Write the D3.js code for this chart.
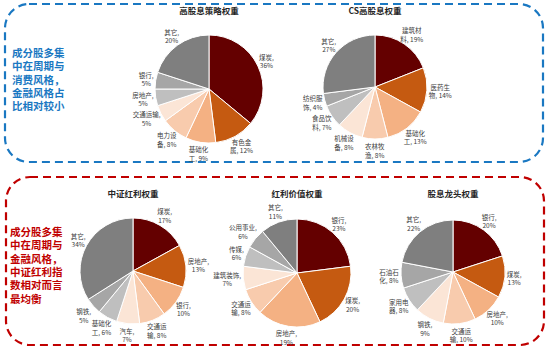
<!DOCTYPE html>
<html>
<head>
<meta charset="utf-8">
<script src="https://cdn.jsdelivr.net/npm/d3@7"></script>
<style>
  body { margin: 0; background: #fff; }
  svg { display: block; font-family: "Noto Sans CJK SC", "Noto Sans", sans-serif; }
</style>
</head>
<body>
<svg width="550" height="354"></svg>
<script>
// "\n" in a name = where the label wraps; otherwise it wraps after the comma
const titles = ["高股息策略权重", "CS高股息权重", "中证红利权重", "红利价值权重", "股息龙头权重"];

const names1 = ["煤炭", "有色金\n属", "基础化\n工", "电力设\n备", "交通运输", "房地产", "银行", "其它"];
const values1 = [36, 12, 9, 8, 5, 5, 5, 20];

const names2 = ["建筑材\n料", "医药生\n物", "基础化\n工", "农林牧\n渔", "机械设\n备", "食品饮\n料", "纺织服\n饰", "其它"];
const values2 = [19, 14, 13, 8, 8, 7, 4, 27];

const names3 = ["煤炭", "房地产", "银行", "交通运\n输", "汽车", "基础化\n工", "钢铁", "其它"];
const values3 = [17, 13, 10, 8, 7, 6, 5, 34];

const names4 = ["银行", "煤炭", "房地产", "交通运\n输", "建筑装饰", "传媒", "公用事业", "其它"];
const values4 = [23, 20, 19, 8, 7, 6, 6, 11];

const names5 = ["银行", "煤炭", "房地产", "交通运\n输", "钢铁", "家用电\n器", "石油石\n化", "其它"];
const values5 = [20, 13, 10, 10, 9, 8, 8, 22];

const note1 = ["成分股多集", "中在周期与", "消费风格，", "金融风格占", "比相对较小"];
const note2 = ["成分股多集", "中在周期与", "金融风格，", "中证红利指", "数相对而言", "最均衡"];

const colors = ["#640000", "#C55A11", "#F4B183", "#F8CBAD", "#FBE5D6", "#BFBFBF", "#A6A6A6", "#7F7F7F"];

const svg = d3.select("svg");

// dashed frames
svg.append("rect").attr("x", 5).attr("y", 4).attr("width", 538).attr("height", 158)
  .attr("rx", 24).attr("fill", "none").attr("stroke", "#1A78C2")
  .attr("stroke-width", 2.2).attr("stroke-dasharray", "8,5");
svg.append("rect").attr("x", 6).attr("y", 177).attr("width", 538).attr("height", 168)
  .attr("rx", 24).attr("fill", "none").attr("stroke", "#C00000")
  .attr("stroke-width", 2.2).attr("stroke-dasharray", "8,5");

function note(lines, x, y, color) {
  const t = svg.append("text").attr("x", x).attr("y", y)
    .attr("fill", color).attr("font-size", 10.5).attr("font-weight", "bold");
  t.selectAll("tspan").data(lines).enter().append("tspan")
    .attr("x", x).attr("dy", (d, i) => i === 0 ? 0 : 13.3).text(d => d);
}
note(note1, 12, 57, "#1A78C2");
note(note2, 10, 236, "#C00000");

const pies = [
  {names: names1, values: values1, cx: 209, cy: 89, r: 54, ty: 14},
  {names: names2, values: values2, cx: 375, cy: 87, r: 52, ty: 14},
  {names: names3, values: values3, cx: 133, cy: 271, r: 53, ty: 197},
  {names: names4, values: values4, cx: 297, cy: 273, r: 54, ty: 197},
  {names: names5, values: values5, cx: 453, cy: 272, r: 52, ty: 197}
];

function overlaps(a, b) {
  return a.x < b.x + b.w && b.x < a.x + a.w && a.y < b.y + b.h && b.y < a.y + a.h;
}

pies.forEach((p, k) => {
  const g = svg.append("g").attr("transform", `translate(${p.cx},${p.cy})`);
  const arcs = d3.pie().sort(null)(p.values);
  const arc = d3.arc().innerRadius(0).outerRadius(p.r);

  g.selectAll("path").data(arcs).enter().append("path")
    .attr("d", arc)
    .attr("fill", (d, i) => colors[i])
    .attr("stroke", "#fff").attr("stroke-width", 1);

  svg.append("text").attr("x", p.cx).attr("y", p.ty)
    .attr("text-anchor", "middle").attr("font-size", 8.5).attr("font-weight", "bold")
    .attr("fill", "#262626").text(titles[k]);

  const placed = [];
  const lab = g.selectAll("text.lab").data(arcs).enter().append("text")
    .attr("class", "lab")
    .attr("text-anchor", "middle")
    .attr("font-size", 6.5).attr("fill", "#404040");
  lab.each(function (d, i) {
    const name = p.names[i];
    const lines = name.includes("\n")
      ? [name.split("\n")[0], name.split("\n")[1] + ", " + d.data + "%"]
      : [name + ",", d.data + "%"];
    const t = d3.select(this);
    t.selectAll("tspan").data(lines).enter().append("tspan")
      .attr("x", 0).attr("y", (s, j) => j === 0 ? -2 : 6.5).text(s => s);
    // push the label box just outside the rim, along the slice's mid angle
    const bb = this.getBBox();
    const a = (d.startAngle + d.endAngle) / 2;
    const ux = Math.sin(a), uy = -Math.cos(a);
    let dist = p.r + 2;
    let box;
    for (let step = 0; step < 20; step++) {
      const cx = ux * dist + ux * bb.width / 2;
      const cy = uy * dist + uy * bb.height / 2;
      box = {x: cx - bb.width / 2, y: cy - bb.height / 2, w: bb.width, h: bb.height, cx, cy};
      if (!placed.some(b => overlaps(b, box))) break;
      dist += 1;
    }
    placed.push(box);
    const ox = bb.x + bb.width / 2, oy = bb.y + bb.height / 2;
    t.attr("transform", `translate(${box.cx - ox},${box.cy - oy})`);
  });
});
</script>
</body>
</html>
